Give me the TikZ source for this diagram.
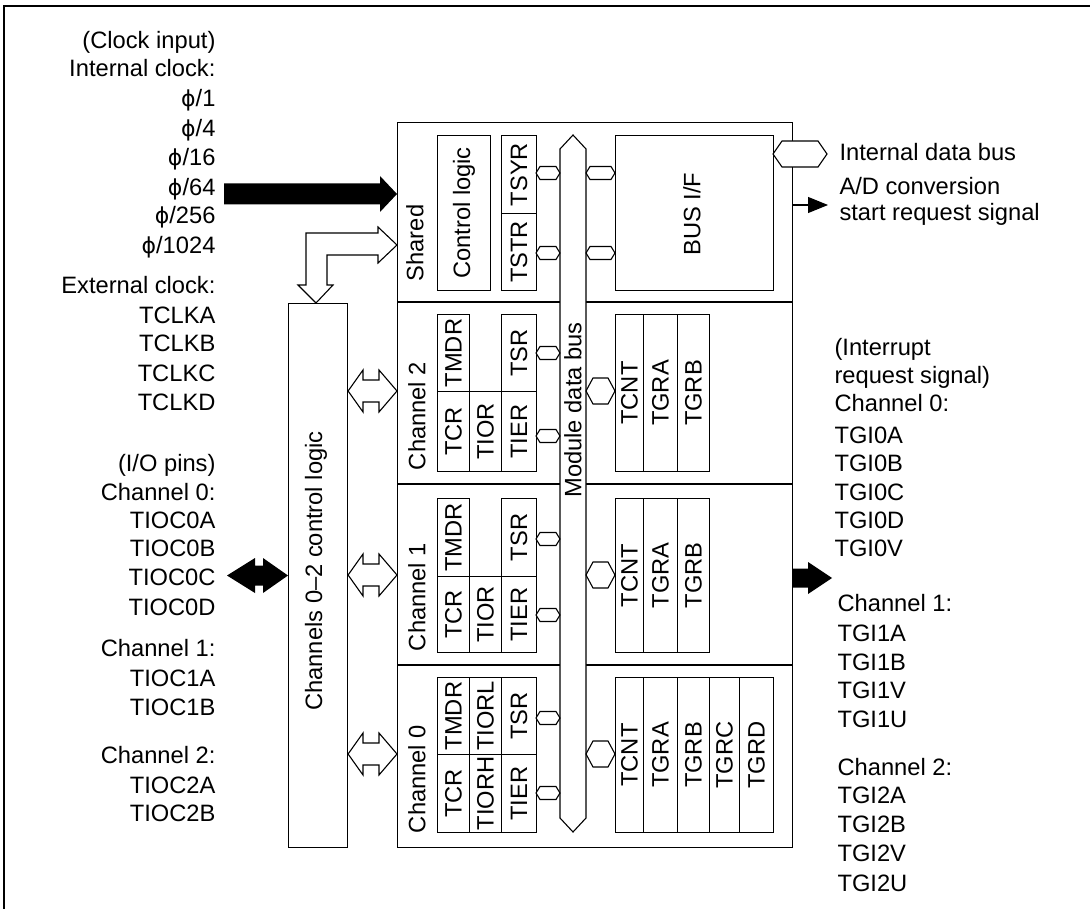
\documentclass[tikz,border=0pt]{standalone}
\usepackage{fontspec}
\setmainfont{Liberation Sans}
\newfontfamily\dvfont{DejaVu Sans}
\usetikzlibrary{arrows.meta}
\newcommand\fsz{\fontsize{23.7pt}{29pt}\selectfont}
\newcommand\ph{{\dvfont\fontsize{22pt}{29pt}\selectfont ϕ}}
\newcommand\rbox[6]{%
  \node[draw, minimum width={#4pt-#2pt}, minimum height={#5pt-#3pt}, anchor=north west] (#1) at (#2,#3) {};
  \node[rotate=90] (#1t) at (#1.center) {#6};}
\newcommand\hexshape[6]{% name x0 x1 yc h inset
  \draw[fill=white] (#2,#4) -- (#2+#6,#4-#5/2) -- (#3-#6,#4-#5/2) -- (#3,#4) -- (#3-#6,#4+#5/2) -- (#2+#6,#4+#5/2) -- cycle;
  \coordinate (#1) at ({(#2+#3)/2},#4);}
\newcommand\hollowdbl[1]{%
  \draw[fill=white] (ctl.east |- 0,#1) -- (363,#1-21) -- (363,#1-11) -- (379,#1-11) -- (379,#1-21) -- (main.west |- 0,#1) -- (379,#1+21) -- (379,#1+11) -- (363,#1+11) -- (363,#1+21) -- cycle;}
\begin{document}
\begin{tikzpicture}[x=1pt,y=-1pt,line width=1.1pt,
  every node/.style={inner sep=0pt,font=\fsz},
  ltext/.style={anchor=base east},
  rtext/.style={anchor=base west}]
\useasboundingbox (0,0) rectangle (1090,909);
\draw (4,909) -- (4,6) -- (1090,6);

% left texts
\foreach \y/\t [count=\i] in {40/{(Clock input)},68/{Internal clock:},98/{\ph/1},128/{\ph/4},157/{\ph/16},187/{\ph/64},215/{\ph/256},245/{\ph/1024},285/{External clock:},315/TCLKA,343/TCLKB,373/TCLKC,402/TCLKD,463/{(I/O pins)},492/{Channel 0:},520/TIOC0A,548/TIOC0B,577/TIOC0C,607/TIOC0D,648/{Channel 1:},678/TIOC1A,707/TIOC1B,755/{Channel 2:},785/TIOC2A,813/TIOC2B}
  \node[ltext] (L\i) at (216,\y+8.5) {\t};

% right texts
\foreach \y/\t [count=\i] in {347/{(Interrupt},375/{request signal)},403/{Channel 0:},435/TGI0A,463/TGI0B,492/TGI0C,520/TGI0D,548/TGI0V}
  \node[rtext] (R\i) at (834,\y+8.5) {\t};
\foreach \y/\t [count=\i] in {603/{Channel 1:},633/TGI1A,662/TGI1B,690/TGI1V,719/TGI1U,767/{Channel 2:},795/TGI2A,824/TGI2B,853/TGI2V,883/TGI2U}
  \node[rtext] (S\i) at (837,\y+8.5) {\t};
\node[rtext] (idb) at (839,152+8.5) {Internal data bus};
\node[rtext] (ad1) at (839,186+8.5) {A/D conversion};
\node[rtext] (ad2) at (839,212+8.5) {start request signal};

% main box and sections
\node[draw, minimum width=395pt, minimum height=725pt, anchor=north west] (main) at (397,122) {};
\foreach \y in {302,484,665} \draw (main.west |- 0,\y) -- (main.east |- 0,\y);

% control logic box
\node[draw, minimum width=59pt, minimum height=544pt, anchor=north west] (ctl) at (288,303) {};
\node[rotate=90] (ctlt) at (316,571) {Channels 0--2 control logic};

% module data bus
\draw[fill=white] (560,149) -- (573,135) -- (586,149) -- (586,818) -- (573,832) -- (560,818) -- cycle;
\node[rotate=90] (mdb) at (573,410) {Module data bus};

% section labels
\node[rotate=90] (shl) at (415,243) {Shared};
\node[rotate=90] (c2l) at (417,416) {Channel 2};
\node[rotate=90] (c1l) at (417,597) {Channel 1};
\node[rotate=90] (c0l) at (417,779) {Channel 0};

% shared
\rbox{clog}{437}{135}{490}{290}{Control logic}
\rbox{tsyr}{501}{135}{536}{213}{TSYR}
\rbox{tstr}{501}{213}{536}{290}{TSTR}
\node[draw, minimum width=158pt, minimum height=155pt, anchor=north west] (busif) at (615,135) {};
\node[rotate=90] (busift) at (692,214) {BUS I/F};
\hexshape{h1}{536}{560}{173}{13}{4}
\hexshape{h2}{536}{560}{253}{13}{4}
\hexshape{h3}{586}{615}{173}{13}{4}
\hexshape{h4}{586}{615}{253}{13}{4}
\hexshape{h5}{773}{827}{154}{26}{9}
\draw[-{Triangle[length=20pt,width=16pt]}] (main.east |- 0,205) -- (828,205);

% channel 2
\rbox{tmdr2}{437}{314}{469}{391}{TMDR}
\rbox{tsr2}{501}{314}{536}{391}{TSR}
\rbox{tcr2}{437}{391}{469}{471}{TCR}
\rbox{tior2}{469}{391}{501}{471}{TIOR}
\rbox{tier2}{501}{391}{536}{471}{TIER}
\rbox{tcnt2}{615}{314}{643}{471}{TCNT}
\rbox{tgra2}{643}{314}{677}{471}{TGRA}
\rbox{tgrb2}{677}{314}{709}{471}{TGRB}
\hexshape{h6}{536}{560}{353}{13}{4}
\hexshape{h7}{536}{560}{436}{13}{4}
\hexshape{h8}{586}{615}{391}{26}{7}

% channel 1
\rbox{tmdr1}{437}{498}{469}{576}{TMDR}
\rbox{tsr1}{501}{498}{536}{576}{TSR}
\rbox{tcr1}{437}{576}{469}{652}{TCR}
\rbox{tior1}{469}{576}{501}{652}{TIOR}
\rbox{tier1}{501}{576}{536}{652}{TIER}
\rbox{tcnt1}{615}{498}{643}{652}{TCNT}
\rbox{tgra1}{643}{498}{677}{652}{TGRA}
\rbox{tgrb1}{677}{498}{709}{652}{TGRB}
\hexshape{h9}{536}{560}{539}{13}{4}
\hexshape{h10}{536}{560}{615}{13}{4}
\hexshape{h11}{586}{615}{575}{26}{7}

% channel 0
\rbox{tmdr0}{437}{677}{469}{754}{TMDR}
\rbox{tiorl0}{469}{677}{501}{754}{TIORL}
\rbox{tsr0}{501}{677}{536}{754}{TSR}
\rbox{tcr0}{437}{754}{469}{832}{TCR}
\rbox{tiorh0}{469}{754}{501}{832}{TIORH}
\rbox{tier0}{501}{754}{536}{832}{TIER}
\rbox{tcnt0}{615}{677}{643}{832}{TCNT}
\rbox{tgra0}{643}{677}{677}{832}{TGRA}
\rbox{tgrb0}{677}{677}{709}{832}{TGRB}
\rbox{tgrc0}{709}{677}{739}{832}{TGRC}
\rbox{tgrd0}{739}{677}{773}{832}{TGRD}
\hexshape{h12}{536}{560}{718}{13}{4}
\hexshape{h13}{536}{560}{793}{13}{4}
\hexshape{h14}{586}{615}{754}{26}{7}

% clock input arrow
\fill (224,183.5) -- (380,183.5) -- (380,176) -- (main.west |- 0,194) -- (380,212) -- (380,204.5) -- (224,204.5) -- cycle;
% L-shaped hollow arrow
\draw[fill=white] (306,285) -- (306,233) -- (378,233) -- (378,227) -- (main.west |- 0,245) -- (378,263) -- (378,255) -- (327,255) -- (327,285) -- (333,285) -- (ctl.north -| 316,0) -- (298,285) -- cycle;
% hollow double arrows
\hollowdbl{391}
\hollowdbl{575}
\hollowdbl{754}
% I/O pins double arrow
\fill (227,575.5) -- (255,558) -- (255,565.5) -- (263,565.5) -- (263,558) -- (ctl.west |- 0,575.5) -- (263,593) -- (263,585.5) -- (255,585.5) -- (255,593) -- cycle;
% interrupt arrow
\fill (main.east |- 0,568.5) -- (808,568.5) -- (808,562) -- (832,578) -- (808,594) -- (808,587.5) -- (main.east |- 0,587.5) -- cycle;
\end{tikzpicture}
\end{document}
